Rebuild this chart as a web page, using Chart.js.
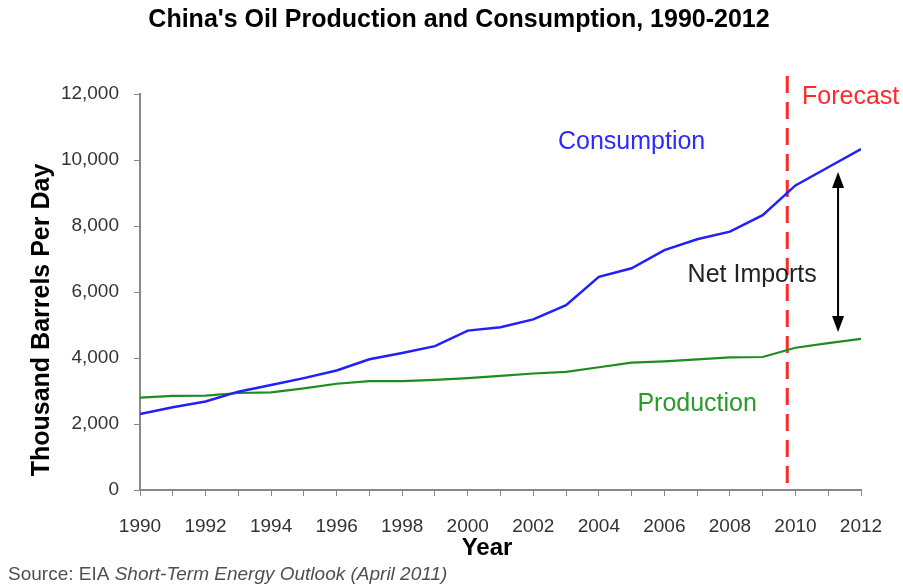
<!DOCTYPE html>
<html>
<head>
<meta charset="utf-8">
<script src="https://cdn.jsdelivr.net/npm/chart.js@4.4.1/dist/chart.umd.min.js"></script>
<style>
  html, body { margin: 0; padding: 0; background: #fff; }
</style>
</head>
<body>
<canvas id="myChart" width="903" height="587"></canvas>
<script>
// DATA (thousand barrels per day)
const years = [1990, 1991, 1992, 1993, 1994, 1995, 1996, 1997, 1998, 1999, 2000, 2001,
               2002, 2003, 2004, 2005, 2006, 2007, 2008, 2009, 2010, 2011, 2012];
const consumption = [2300, 2510, 2680, 2980, 3180, 3390, 3620, 3960, 4150, 4360, 4830, 4930,
                     5170, 5600, 6460, 6720, 7270, 7600, 7830, 8330, 9230, 9780, 10330];
const production = [2800, 2850, 2860, 2940, 2960, 3080, 3220, 3300, 3300, 3340, 3390, 3460,
                    3530, 3580, 3720, 3860, 3900, 3960, 4020, 4030, 4310, 4450, 4580];
const yearLabels = ['1990', '1992', '1994', '1996', '1998', '2000', '2002', '2004', '2006', '2008', '2010', '2012'];
const forecastFrom = 2009.75;

const font = '"Liberation Sans", Arial, sans-serif';

// dashed forecast line, arrow, line names, titles and the source note
const notes = {
  id: 'notes',
  beforeDatasetsDraw(chart, args, opts) {
    const {ctx, chartArea, scales: {x}} = chart;
    const fx = x.getPixelForValue(opts.forecastAt);
    ctx.save();
    ctx.strokeStyle = '#ff2a2a';
    ctx.lineWidth = 3;
    ctx.setLineDash([17, 9]);
    ctx.beginPath();
    ctx.moveTo(fx, chartArea.top - 18);
    ctx.lineTo(fx, chartArea.bottom);
    ctx.stroke();
    ctx.restore();
  },
  afterDatasetsDraw(chart, args, opts) {
    const {ctx, scales: {x, y}} = chart;
    ctx.save();

    // net imports arrow
    const ax = x.getPixelForValue(opts.arrow.x);
    const a1 = y.getPixelForValue(opts.arrow.from);
    const a2 = y.getPixelForValue(opts.arrow.to);
    ctx.strokeStyle = '#000';
    ctx.fillStyle = '#000';
    ctx.lineWidth = 2;
    ctx.beginPath();
    ctx.moveTo(ax, a1 + 12);
    ctx.lineTo(ax, a2 - 12);
    ctx.stroke();
    [[a1, 1], [a2, -1]].forEach(([py, dir]) => {
      ctx.beginPath();
      ctx.moveTo(ax, py);
      ctx.lineTo(ax - 6, py + dir * 16);
      ctx.lineTo(ax + 6, py + dir * 16);
      ctx.closePath();
      ctx.fill();
    });

    opts.labels.forEach(l => {
      ctx.font = '25px ' + font;
      ctx.fillStyle = l.color;
      ctx.textAlign = l.align || 'center';
      ctx.textBaseline = 'middle';
      ctx.fillText(l.text, x.getPixelForValue(l.x), y.getPixelForValue(l.y));
    });
    ctx.restore();
  },
  afterDraw(chart) {
    const {ctx} = chart;
    ctx.save();
    ctx.textBaseline = 'middle';
    ctx.fillStyle = '#000';
    ctx.textAlign = 'center';
    ctx.font = 'bold 25px ' + font;
    ctx.fillText("China's Oil Production and Consumption, 1990-2012", 459, 20);

    // axis titles
    ctx.font = 'bold 24px ' + font;
    ctx.fillText('Year', 487, 548);
    ctx.save();
    ctx.translate(42, 320);
    ctx.rotate(-Math.PI / 2);
    ctx.font = 'bold 25px ' + font;
    ctx.fillText('Thousand Barrels Per Day', 0, 0);
    ctx.restore();

    ctx.textAlign = 'left';
    ctx.fillStyle = '#505050';
    ctx.font = '19px ' + font;
    const lead = 'Source: EIA ';
    ctx.fillText(lead, 8, 575);
    const w = ctx.measureText(lead).width;
    ctx.font = 'italic 19px ' + font;
    ctx.fillText('Short-Term Energy Outlook (April 2011)', 8 + w, 575);
    ctx.restore();
  }
};

const ctx = document.getElementById('myChart');

new Chart(ctx, {
  type: 'line',
  data: {
    datasets: [
      {
        label: 'Consumption',
        data: years.map((yr, i) => ({x: yr, y: consumption[i]})),
        borderColor: '#2020ff',
        borderWidth: 2.5,
        pointRadius: 0,
        tension: 0
      },
      {
        label: 'Production',
        data: years.map((yr, i) => ({x: yr, y: production[i]})),
        borderColor: '#1e8c1e',
        borderWidth: 2.2,
        pointRadius: 0,
        tension: 0
      }
    ]
  },
  options: {
    responsive: false,
    animation: false,
    layout: { padding: { top: 94, right: 42, left: 0, bottom: 0 } },
    plugins: {
      legend: { display: false },
      tooltip: { enabled: false },
      title: { display: false },
      notes: {
        forecastAt: forecastFrom,
        arrow: { x: 2011.3, from: 9640, to: 4790 },
        labels: [
          { text: 'Forecast', x: 2010.2, y: 11900, color: '#ff2a2a', align: 'left' },
          { text: 'Consumption', x: 2005.0, y: 10545, color: '#2b2bff' },
          { text: 'Net Imports', x: 2008.68, y: 6515, color: '#222' },
          { text: 'Production', x: 2007.0, y: 2606, color: '#2a9a2a' }
        ]
      }
    },
    scales: {
      x: {
        type: 'linear',
        min: 1990,
        max: 2012,
        afterFit: s => { s.height = 97; },
        ticks: {
          stepSize: 1,
          autoSkip: false,
          maxRotation: 0,
          padding: 19,
          color: '#333',
          font: { family: font, size: 19 },
          callback: v => yearLabels.includes(String(v)) ? String(v) : ''
        },
        grid: { drawOnChartArea: false, tickLength: 6, color: '#888' },
        border: { color: '#888', width: 2 }
      },
      y: {
        min: 0,
        max: 12000,
        afterFit: s => { s.width = 140; },
        ticks: {
          stepSize: 2000,
          padding: 15,
          color: '#333',
          font: { family: font, size: 19 },
          callback: v => v.toLocaleString('en-US')
        },
        grid: { drawOnChartArea: false, tickLength: 6, color: '#888' },
        border: { color: '#888', width: 2 }
      }
    }
  },
  plugins: [notes]
});
</script>
</body>
</html>
